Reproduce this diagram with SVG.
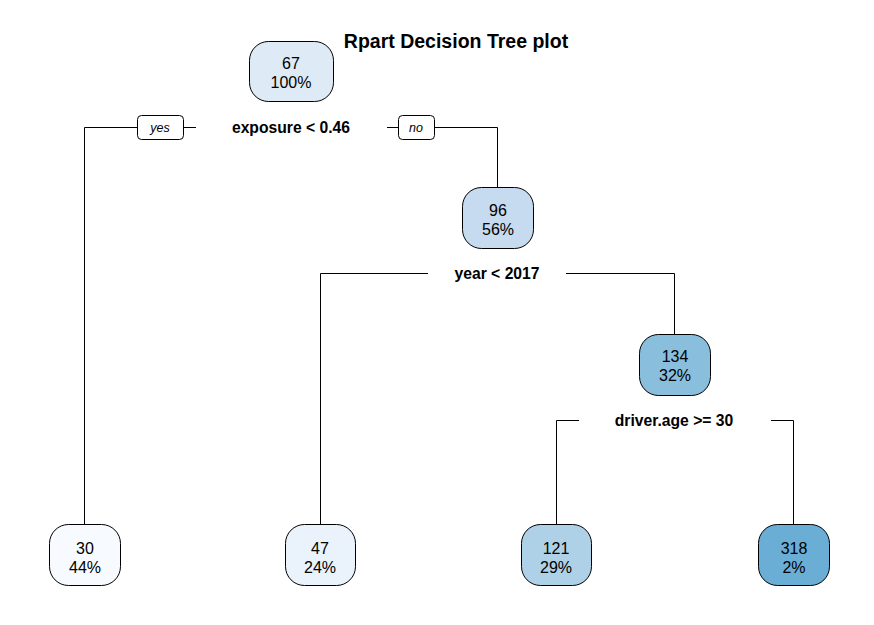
<svg xmlns="http://www.w3.org/2000/svg" width="874" height="625" viewBox="0 0 874 625">
<style>
.box{stroke:#000;stroke-width:1}
.nt{font-family:"Liberation Sans",Arial,sans-serif;font-size:16px;fill:#000;text-anchor:middle}
.sl{font-family:"Liberation Sans",Arial,sans-serif;font-size:15.7px;font-weight:bold;fill:#000;text-anchor:middle}
.yn{font-family:"Liberation Sans",Arial,sans-serif;font-size:12.5px;font-style:italic;fill:#000;text-anchor:middle}
.ln{fill:none;stroke:#000;stroke-width:1}
.title{font-family:"Liberation Sans",Arial,sans-serif;font-size:19.5px;font-weight:bold;fill:#000;text-anchor:middle}
</style>
<rect width="874" height="625" fill="#fff"/>
<text class="title" x="456" y="48">Rpart Decision Tree plot</text>
<g id="connectors">
<path class="ln" d="M84.5,524 V127.5 H137"/>
<path class="ln" d="M184,127.5 H196"/>
<path class="ln" d="M387,127.5 H398"/>
<path class="ln" d="M435,127.5 H497.5 V187"/>
<path class="ln" d="M320.5,524 V273.5 H428"/>
<path class="ln" d="M566,273.5 H674.5 V334"/>
<path class="ln" d="M556.5,524 V420.5 H579"/>
<path class="ln" d="M771,420.5 H793.5 V524"/>
</g>
<g id="yes">
<rect class="box" x="137.5" y="115.5" width="46" height="24" rx="4" fill="#fff"/>
<text class="yn" x="160" y="132">yes</text>
</g>
<g id="no">
<rect class="box" x="398.5" y="115.5" width="36" height="24" rx="4" fill="#fff"/>
<text class="yn" x="416" y="132">no</text>
</g>
<g id="split1"><text class="sl" x="291" y="133">exposure &lt; 0.46</text></g>
<g id="split2"><text class="sl" x="497" y="279">year &lt; 2017</text></g>
<g id="split3"><text class="sl" x="674" y="426">driver.age &gt;= 30</text></g>
<g id="node1">
<rect class="box" x="249.5" y="41.5" width="84" height="60" rx="19" fill="#deebf7"/>
<text class="nt" x="291" y="69">67</text>
<text class="nt" x="291" y="88">100%</text>
</g>
<g id="node3">
<rect class="box" x="462.5" y="187.5" width="71" height="61" rx="19" fill="#c6dbef"/>
<text class="nt" x="498" y="216">96</text>
<text class="nt" x="498" y="235">56%</text>
</g>
<g id="node7">
<rect class="box" x="639.5" y="334.5" width="71" height="61" rx="19" fill="#89bedc"/>
<text class="nt" x="675" y="362">134</text>
<text class="nt" x="675" y="381">32%</text>
</g>
<g id="node2">
<rect class="box" x="49.5" y="524.5" width="71" height="61" rx="19" fill="#f7fbff"/>
<text class="nt" x="85" y="554">30</text>
<text class="nt" x="85" y="573">44%</text>
</g>
<g id="node6">
<rect class="box" x="285.5" y="524.5" width="70" height="61" rx="19" fill="#eaf3fb"/>
<text class="nt" x="320" y="554">47</text>
<text class="nt" x="320" y="573">24%</text>
</g>
<g id="node14">
<rect class="box" x="521.5" y="524.5" width="70" height="61" rx="19" fill="#afd1e7"/>
<text class="nt" x="556" y="554">121</text>
<text class="nt" x="556" y="573">29%</text>
</g>
<g id="node15">
<rect class="box" x="758.5" y="524.5" width="71" height="61" rx="19" fill="#6aaed6"/>
<text class="nt" x="794" y="554">318</text>
<text class="nt" x="794" y="573">2%</text>
</g>
</svg>
